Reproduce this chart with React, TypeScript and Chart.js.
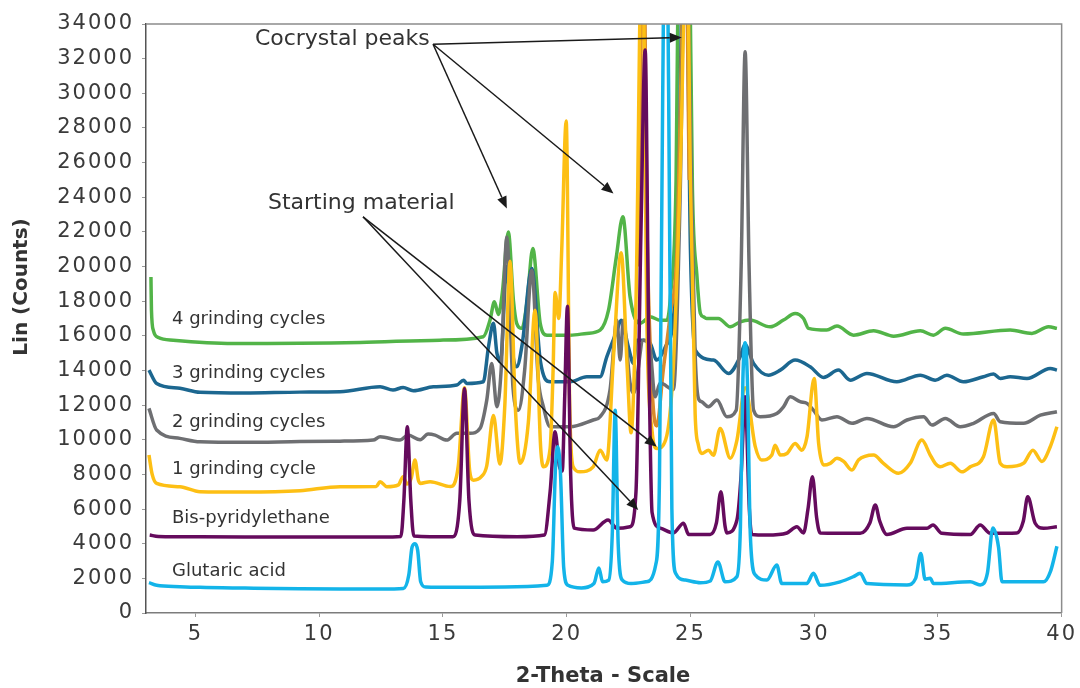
import React, { useEffect, useRef } from "react";
import { Chart, registerables } from "chart.js";

Chart.register(...registerables);

// ---- axis ticks ----
const xTicks = [5, 10, 15, 20, 25, 30, 35, 40];
const yTicks = [0, 2000, 4000, 6000, 8000, 10000, 12000, 14000, 16000, 18000, 20000, 22000, 24000, 26000, 28000, 30000, 32000, 34000];

// ---- series: [2-theta, counts] ----
const glutaricAcid: [number, number][] = [
  [3.12, 1750], [3.43, 1600], [4.37, 1520], [5.18, 1480], [7.0, 1440], [9.22, 1400], [10.84, 1390], [12.5, 1390],
  [13.4, 1420], [13.62, 2200], [13.75, 3800], [13.87, 4000], [13.98, 3600], [14.1, 1800], [14.3, 1500], [15.5, 1480],
  [17.5, 1500], [19.2, 1600], [19.42, 3000], [19.55, 8500], [19.64, 9600], [19.75, 8000], [19.88, 2600], [20.05, 1600],
  [20.6, 1450], [21.1, 1700], [21.3, 2600], [21.45, 1800], [21.7, 1900], [21.84, 4500], [21.96, 11700], [22.08, 4000],
  [22.25, 1900], [22.6, 1700], [23.2, 1800], [23.6, 2800], [23.75, 8000], [23.88, 30000], [24.0, 45000], [24.12, 30000],
  [24.25, 6000], [24.4, 2300], [24.8, 1900], [25.4, 1750], [25.8, 1850], [26.11, 2950], [26.4, 1800], [26.88, 2100],
  [27.02, 5000], [27.12, 13500], [27.21, 15600], [27.3, 13500], [27.42, 4500], [27.62, 2200], [28.09, 1900], [28.49, 2770],
  [28.69, 1700], [29.7, 1700], [29.97, 2290], [30.24, 1600], [31.05, 1800], [31.59, 2100], [31.86, 2290], [32.13, 1700],
  [33.75, 1620], [34.1, 2000], [34.31, 3440], [34.48, 1950], [34.69, 2000], [34.82, 1700], [36.31, 1800], [36.71, 1620],
  [37.0, 2300], [37.22, 4900], [37.45, 3800], [37.59, 1800], [39.27, 1800], [39.55, 2400], [39.81, 3850],
];

const bisPyridylethane: [number, number][] = [
  [3.15, 4500], [3.5, 4420], [5.18, 4400], [9.22, 4380], [12.5, 4380], [13.3, 4420], [13.42, 6500], [13.56, 10750],
  [13.7, 6500], [13.82, 4450], [15.4, 4400], [15.68, 6500], [15.87, 12960], [16.05, 6500], [16.3, 4500], [18.0, 4400],
  [19.1, 4500], [19.33, 7000], [19.53, 10460], [19.7, 8500], [19.82, 8200], [19.92, 12500], [20.03, 17700], [20.16, 8000],
  [20.3, 4900], [21.07, 4790], [21.67, 5370], [22.03, 4890], [22.56, 4980], [22.8, 7000], [23.0, 22000], [23.17, 32500],
  [23.32, 15000], [23.45, 5800], [23.78, 4900], [24.31, 4620], [24.72, 5180], [24.93, 4530], [25.8, 4530], [26.05, 5200],
  [26.23, 7000], [26.4, 5000], [26.47, 4620], [26.88, 5370], [27.05, 8000], [27.21, 12480], [27.38, 6000], [27.48, 4530],
  [28.09, 4500], [28.9, 4620], [29.3, 4980], [29.57, 4620], [29.75, 6000], [29.93, 7870], [30.1, 5500], [30.24, 4620],
  [31.86, 4600], [32.25, 5200], [32.47, 6230], [32.65, 5300], [32.94, 4530], [33.75, 4890], [34.56, 4890], [34.8, 5080],
  [35.16, 4600], [36.31, 4530], [36.71, 5080], [37.11, 4600], [38.19, 4620], [38.45, 5300], [38.63, 6710], [38.93, 5180],
  [39.27, 4890], [39.81, 4980],
];

const grinding1: [number, number][] = [
  [3.12, 9120], [3.25, 8000], [3.43, 7480], [4.37, 7290], [5.18, 7000], [7.0, 6980], [9.22, 7060], [10.84, 7290],
  [12.3, 7300], [12.46, 7580], [12.73, 7290], [13.2, 7400], [13.39, 7870], [13.55, 7450], [13.72, 7800], [13.87, 8830],
  [14.0, 7700], [14.08, 7480], [14.48, 7580], [15.3, 7300], [15.62, 8500], [15.87, 13000], [16.08, 8200], [16.23, 7670],
  [16.55, 7870], [16.77, 8500], [17.04, 11400], [17.3, 8600], [17.5, 12000], [17.71, 20300], [17.92, 12000], [18.12, 8650],
  [18.45, 11000], [18.72, 17480], [18.95, 9500], [19.06, 8440], [19.33, 9500], [19.45, 14000], [19.53, 18500], [19.68, 17000],
  [19.8, 21000], [19.98, 28400], [20.12, 12000], [20.26, 8440], [20.54, 8150], [21.07, 8440], [21.35, 9400], [21.62, 8830],
  [21.9, 15000], [22.2, 20800], [22.45, 14000], [22.6, 10400], [22.8, 18000], [23.05, 40000], [23.25, 16000], [23.45, 10500],
  [23.65, 9500], [24.0, 10000], [24.3, 14000], [24.6, 26000], [24.85, 40000], [25.0, 25000], [25.19, 11500], [25.32, 9700],
  [25.46, 9210], [25.73, 9400], [25.93, 9100], [26.2, 10650], [26.61, 8940], [26.88, 9980], [27.21, 13000], [27.62, 9600],
  [27.88, 8830], [28.29, 9120], [28.42, 9690], [28.63, 9120], [28.9, 9210], [29.23, 9790], [29.5, 9400], [29.71, 10170],
  [30.0, 13540], [30.18, 9790], [30.38, 8540], [30.65, 8640], [30.92, 8930], [31.19, 8750], [31.53, 8250], [31.79, 8830],
  [32.4, 9120], [32.8, 8640], [33.41, 8060], [33.88, 8640], [34.35, 9980], [34.69, 9120], [34.89, 8640], [35.09, 8440],
  [35.5, 8640], [35.97, 8150], [36.31, 8440], [36.84, 9020], [37.25, 11140], [37.52, 8640], [37.79, 8440], [38.46, 8640],
  [38.84, 9400], [39.2, 8750], [39.54, 9600], [39.81, 10750],
];

const grinding2: [number, number][] = [
  [3.12, 11810], [3.43, 10560], [4.37, 10080], [5.18, 9880], [7.0, 9850], [9.22, 9900], [10.84, 9920], [12.18, 9980],
  [12.46, 10170], [13.27, 9980], [13.59, 10270], [14.08, 10000], [14.4, 10330], [14.68, 10270], [15.15, 9980], [15.56, 10370],
  [16.1, 10370], [16.5, 10660], [16.77, 12290], [16.97, 14400], [17.18, 11900], [17.35, 14000], [17.58, 21700], [17.83, 13000],
  [18.05, 11710], [18.3, 14000], [18.59, 19790], [18.85, 13500], [19.06, 11900], [19.33, 10750], [20.14, 10750], [21.07, 11140],
  [21.35, 11330], [21.75, 12870], [22.03, 16900], [22.16, 14600], [22.29, 16900], [22.56, 13270], [22.7, 12690], [23.1, 15750],
  [23.37, 15180], [23.57, 12480], [23.78, 13270], [24.31, 12900], [24.58, 23800], [24.79, 40000], [25.08, 22000], [25.19, 15000],
  [25.32, 12400], [25.45, 12200], [25.73, 11900], [26.07, 12290], [26.47, 11330], [26.85, 11710], [27.05, 20000], [27.21, 32400],
  [27.37, 20000], [27.55, 11710], [27.82, 11330], [28.49, 11520], [28.76, 11900], [29.03, 12480], [29.43, 12200], [29.71, 12100],
  [29.97, 11710], [30.31, 11140], [30.92, 11330], [31.53, 10950], [32.13, 11230], [33.21, 10750], [33.75, 11140], [34.42, 11330],
  [34.76, 10850], [35.3, 11230], [35.9, 10750], [36.44, 10950], [37.25, 11520], [37.52, 11040], [38.46, 10950], [39.14, 11420],
  [39.81, 11620],
];

const grinding3: [number, number][] = [
  [3.12, 14020], [3.43, 13250], [4.37, 12970], [5.18, 12740], [7.0, 12700], [9.22, 12750], [10.84, 12770], [12.46, 13060],
  [12.98, 12870], [13.39, 13020], [13.8, 12830], [14.61, 13060], [15.56, 13160], [15.83, 13440], [15.96, 13250], [16.63, 13350],
  [16.84, 15370], [17.04, 16720], [17.18, 15000], [17.32, 14500], [17.58, 20000], [17.82, 15000], [17.98, 14210], [18.2, 15500],
  [18.59, 19890], [18.93, 14600], [19.33, 13350], [20.14, 13350], [20.81, 13640], [21.35, 13640], [21.62, 14790], [22.03, 16300],
  [22.2, 16900], [22.49, 15370], [22.7, 14410], [22.83, 15750], [23.1, 15750], [23.37, 15580], [23.64, 14600], [24.0, 15400],
  [24.31, 17000], [24.5, 22000], [24.68, 36000], [24.85, 36000], [25.0, 21000], [25.19, 15180], [25.93, 14600], [26.54, 13830],
  [27.01, 14790], [27.2, 15500], [27.55, 14410], [28.15, 13730], [28.63, 14020], [29.23, 14600], [29.84, 14210], [30.38, 13600],
  [30.98, 14020], [31.46, 13440], [32.13, 13830], [33.34, 13350], [34.29, 13730], [34.89, 13440], [35.36, 13730], [36.03, 13350],
  [36.84, 13640], [37.25, 13790], [37.52, 13540], [37.92, 13640], [38.6, 13540], [39.54, 14120], [39.81, 14020],
];

const grinding4: [number, number][] = [
  [3.2, 19400], [3.22, 17500], [3.3, 16300], [3.5, 15900], [4.1, 15750], [6.52, 15560], [11.65, 15620], [14.88, 15750],
  [16.63, 15950], [16.9, 16900], [17.08, 17960], [17.24, 17230], [17.4, 18500], [17.64, 22000], [17.85, 18000], [17.98, 16720],
  [18.19, 16430], [18.4, 18000], [18.63, 21040], [18.93, 16720], [19.2, 16040], [20.14, 16040], [20.81, 16140], [21.35, 16330],
  [21.69, 17480], [22.0, 20500], [22.27, 22870], [22.56, 18250], [22.97, 16720], [23.37, 17100], [23.78, 16900], [24.05, 16900],
  [24.19, 18230], [24.42, 25000], [24.55, 42000], [24.8, 45000], [24.95, 40000], [25.08, 24500], [25.26, 19500], [25.4, 17300],
  [25.53, 17100], [25.66, 17000], [26.13, 17000], [26.61, 16520], [27.01, 16810], [27.41, 16910], [28.22, 16520], [28.76, 16910],
  [29.23, 17290], [29.57, 17000], [29.77, 16430], [30.51, 16330], [30.92, 16560], [31.59, 16040], [32.4, 16290], [33.21, 15980],
  [34.29, 16290], [34.82, 16040], [35.3, 16430], [36.03, 16100], [37.92, 16330], [38.8, 16140], [39.47, 16520], [39.81, 16430],
];

const cocrystalTrace: [number, number][] = [
  [22.9, 20000], [23.1, 40000], [23.25, 22000], [23.4, 14500], [23.52, 11500], [23.64, 10800], [23.9, 14000], [24.19, 17300],
  [24.46, 21100], [24.66, 34000], [24.78, 42000], [24.95, 25000],
];

// drawn top-most first
const seriesNames = ["Glutaric acid", "Bis-pyridylethane", "1 grinding cycle", "2 grinding cycles", "", "3 grinding cycles", "4 grinding cycles"];
const seriesData = [glutaricAcid, bisPyridylethane, grinding1, grinding2, cocrystalTrace, grinding3, grinding4];
const seriesColors = ["#13b4e9", "#650b5d", "#fdbf14", "#6e6f72", "#d88a2c", "#1c6790", "#52b448"];

// in-plot series labels: [text, x, y]
const seriesLabels: [string, number, number][] = [
  ["4 grinding cycles", 4.05, 16950],
  ["3 grinding cycles", 4.05, 13850],
  ["2 grinding cycles", 4.05, 11000],
  ["1 grinding cycle", 4.05, 8280],
  ["Bis-pyridylethane", 4.05, 5450],
  ["Glutaric acid", 4.05, 2400],
];

const FONT = '"DejaVu Sans", sans-serif';

function arrow(ctx: CanvasRenderingContext2D, x1: number, y1: number, x2: number, y2: number) {
  const ang = Math.atan2(y2 - y1, x2 - x1);
  const len = 12;
  const hw = 5;
  const bx = x2 - Math.cos(ang) * len;
  const by = y2 - Math.sin(ang) * len;
  ctx.beginPath();
  ctx.moveTo(x1, y1);
  ctx.lineTo(bx, by);
  ctx.stroke();
  ctx.beginPath();
  ctx.moveTo(x2, y2);
  ctx.lineTo(bx + Math.sin(ang) * hw, by - Math.cos(ang) * hw);
  ctx.lineTo(bx - Math.sin(ang) * hw, by + Math.cos(ang) * hw);
  ctx.closePath();
  ctx.fill();
}

const spacingPlugin = {
  id: "spacing",
  beforeDraw(chart: any) {
    (chart.ctx as any).letterSpacing = "2px";
  },
};

const overlayPlugin = {
  id: "overlay",
  afterDraw(chart: any) {
    const { ctx, chartArea, scales } = chart;
    const xs = scales.x;
    const ys = scales.y;
    const px = (v: number) => xs.getPixelForValue(v);
    const py = (v: number) => ys.getPixelForValue(v);
    ctx.save();
    ctx.letterSpacing = "0px";
    // frame top + right
    ctx.strokeStyle = "#8c8c8c";
    ctx.lineWidth = 1.5;
    ctx.beginPath();
    ctx.moveTo(chartArea.left, chartArea.top);
    ctx.lineTo(chartArea.right, chartArea.top);
    ctx.lineTo(chartArea.right, chartArea.bottom);
    ctx.stroke();

    // series labels
    ctx.fillStyle = "#333333";
    ctx.font = `18px ${FONT}`;
    ctx.textAlign = "left";
    ctx.textBaseline = "middle";
    for (const [t, x, y] of seriesLabels) ctx.fillText(t, px(x), py(y));

    // annotations
    ctx.font = `22px ${FONT}`;
    ctx.fillText("Cocrystal peaks", px(7.4), py(33100));
    ctx.fillText("Starting material", px(7.93), py(23650));
    ctx.strokeStyle = "#1a1a1a";
    ctx.fillStyle = "#1a1a1a";
    ctx.lineWidth = 1.5;
    const cs = [px(14.6), py(32830)];
    arrow(ctx, cs[0], cs[1], px(24.65), py(33220));
    arrow(ctx, cs[0], cs[1], px(17.58), py(23350));
    arrow(ctx, cs[0], cs[1], px(21.89), py(24220));
    const ss = [px(11.77), py(22870)];
    arrow(ctx, ss[0], ss[1], px(23.64), py(9600));
    arrow(ctx, ss[0], ss[1], px(22.89), py(5940));

    // axis titles
    ctx.fillStyle = "#333333";
    ctx.textAlign = "center";
    ctx.textBaseline = "middle";
    ctx.font = `bold 21px ${FONT}`;
    ctx.fillText("2-Theta - Scale", 603, 677);
    ctx.font = `bold 20px ${FONT}`;
    ctx.translate(22, 287);
    ctx.rotate(-Math.PI / 2);
    ctx.fillText("Lin (Counts)", 0, 0);
    ctx.restore();
  },
};

export default function App() {
  const ref = useRef<HTMLCanvasElement>(null);
  useEffect(() => {
    const canvas = ref.current;
    if (!canvas) return;
    const chart = new Chart(canvas, {
      type: "line",
      data: {
        datasets: seriesData.map((pts, i) => ({
          label: seriesNames[i],
          data: pts.map(([x, y]) => ({ x, y })),
          borderColor: seriesColors[i],
          backgroundColor: seriesColors[i],
          borderWidth: 3.5,
          pointRadius: 0,
          fill: false,
          cubicInterpolationMode: "monotone" as const,
        })),
      },
      options: {
        animation: false,
        responsive: false,
        layout: { padding: { left: 0, top: 24, right: 18, bottom: 0 } },
        plugins: { legend: { display: false }, tooltip: { enabled: false } },
        scales: {
          x: {
            type: "linear",
            min: 3,
            max: 40,
            afterBuildTicks: (axis: any) => {
              axis.ticks = xTicks.map((v) => ({ value: v }));
            },
            afterFit: (s: any) => {
              s.height = 75;
            },
            grid: { display: true, drawOnChartArea: false, drawTicks: true, tickLength: 4, color: "#9a9a9a" },
            border: { display: true, color: "#7c7c7c", width: 1.5 },
            ticks: {
              font: { family: FONT, size: 21 },
              color: "#3a3a3a",
              padding: 5,
              maxRotation: 0,
              autoSkip: false,
              callback: (v: any) => String(v),
            },
          },
          y: {
            type: "linear",
            min: 0,
            max: 34000,
            afterBuildTicks: (axis: any) => {
              axis.ticks = yTicks.map((v) => ({ value: v }));
            },
            afterFit: (s: any) => {
              s.width = 146;
            },
            grid: { display: true, drawOnChartArea: false, drawTicks: true, tickLength: 4, color: "#9a9a9a" },
            border: { display: true, color: "#555555", width: 1.5 },
            ticks: {
              font: { family: FONT, size: 21 },
              color: "#3a3a3a",
              padding: 8,
              autoSkip: false,
              callback: (v: any) => String(v),
            },
          },
        },
      },
      plugins: [spacingPlugin, overlayPlugin],
    });
    return () => chart.destroy();
  }, []);
  return (
    <div style={{ position: "absolute", left: 0, top: 0, width: 1080, height: 688, background: "#ffffff" }}>
      <canvas ref={ref} width={1080} height={688} style={{ width: 1080, height: 688, display: "block" }} />
    </div>
  );
}
